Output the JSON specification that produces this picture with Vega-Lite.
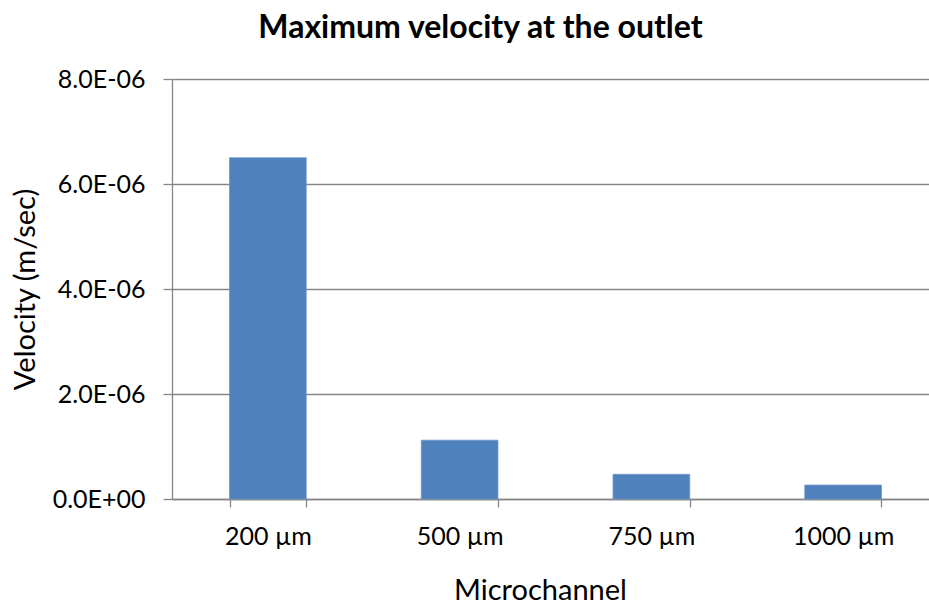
{
  "$schema": "https://vega.github.io/schema/vega-lite/v6.json",
  "autosize": {"type": "none"},
  "padding": {"left": 172, "top": 79, "right": 0, "bottom": 106},
  "width": 757,
  "height": 420,
  "background": "white",
  "title": {
    "text": "Maximum velocity at the outlet",
    "anchor": "middle",
    "frame": "group",
    "dx": -70,
    "offset": 22,
    "font": "Lato",
    "fontSize": 32,
    "fontWeight": "bold",
    "color": "#000000"
  },
  "data": {
    "values": [
      {"channel": "200 µm", "velocity": 6.5e-6},
      {"channel": "500 µm", "velocity": 1.12e-6},
      {"channel": "750 µm", "velocity": 0.47e-6},
      {"channel": "1000 µm", "velocity": 0.265e-6}
    ]
  },
  "config": {
    "view": {"stroke": null},
    "axis": {
      "labelFont": "Lato",
      "titleFont": "Lato",
      "labelColor": "#000000",
      "titleColor": "#000000",
      "domainColor": "#868686",
      "tickColor": "#868686",
      "gridColor": "#868686",
      "domainWidth": 1.3,
      "tickWidth": 1.3,
      "gridWidth": 1.3
    }
  },
  "mark": {"type": "bar", "color": "#4F81BD", "stroke": "#6d97c9", "strokeWidth": 0.8},
  "encoding": {
    "x": {
      "field": "channel",
      "type": "nominal",
      "sort": null,
      "scale": {"range": [0, 767], "paddingInner": 0.6, "paddingOuter": 0.3},
      "axis": {
        "title": "Microchannel",
        "titleFontSize": 29,
        "titleFontWeight": "normal",
        "titlePadding": 27,
        "titleX": 368,
        "labelFontSize": 25,
        "labelAngle": 0,
        "labelPadding": 17,
        "tickBand": "extent",
        "tickSize": 8
      }
    },
    "y": {
      "field": "velocity",
      "type": "quantitative",
      "scale": {"domain": [0, 8e-6], "nice": false},
      "axis": {
        "title": "Velocity (m/sec)",
        "titleFontSize": 29,
        "titleFontWeight": "normal",
        "titlePadding": 12,
        "labelFontSize": 25,
        "labelPadding": 18,
        "tickSize": 9,
        "values": [0, 2e-6, 4e-6, 6e-6, 8e-6],
        "labelExpr": "datum.value == 0 ? '0.0E+00' : format(datum.value / 1e-6, '.1f') + 'E-06'",
        "grid": true
      }
    }
  }
}
